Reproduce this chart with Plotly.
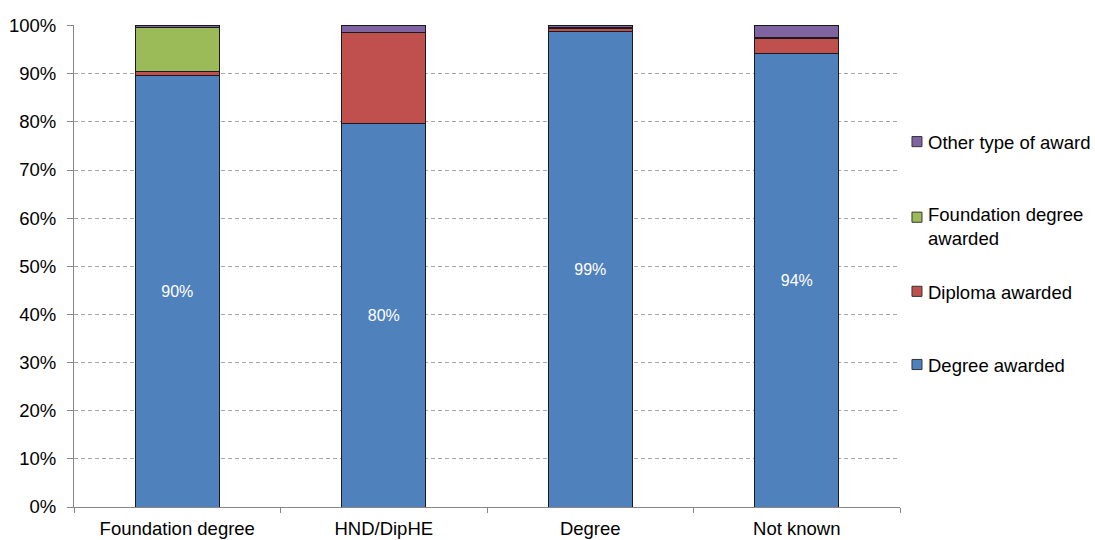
import plotly.graph_objects as go

# Qualification aimed for on entry, and share of each award type (percent)
categories = ["Foundation degree", "HND/DipHE", "Degree", "Not known"]
degree_awarded = [89.6, 79.7, 98.8, 94.3]
diploma_awarded = [0.9, 18.9, 0.5, 3.0]
foundation_awarded = [9.1, 0.0, 0.2, 0.3]
other_award = [0.4, 1.4, 0.5, 2.4]

y_ticks = list(range(0, 101, 10))
y_tick_labels = [f"{v}%" for v in y_ticks]

series = [
    ("Degree awarded", degree_awarded, "#4F81BD"),
    ("Diploma awarded", diploma_awarded, "#C0504D"),
    ("Foundation degree<br>awarded", foundation_awarded, "#9BBB59"),
    ("Other type of award", other_award, "#8064A2"),
]

FONT = "Liberation Sans, Arial, sans-serif"
TEXT_SIZE = 18.5

fig = go.Figure()
for i, (name, values, colour) in enumerate(series):
    kwargs = {}
    if i == 0:
        kwargs = dict(
            texttemplate="%{y:.0f}%",
            textposition="inside",
            insidetextanchor="middle",
            textfont=dict(color="white", size=16, family=FONT),
        )
    fig.add_trace(go.Bar(
        x=categories, y=values, name=name,
        marker=dict(color=colour, line=dict(color="#1a1a1a", width=1)),
        showlegend=False, hoverinfo="skip", **kwargs,
    ))

# Legend drawn beside the plot: a swatch and label per series, top to bottom
legend_rows = [
    ("Other type of award", "#8064A2", 75.9, 75.8),
    ("Foundation degree<br>awarded", "#9BBB59", 60.2, 58.2),
    ("Diploma awarded", "#C0504D", 44.8, 44.6),
    ("Degree awarded", "#4F81BD", 29.6, 29.4),
]
for label, colour, swatch_y, text_y in legend_rows:
    fig.add_shape(
        type="rect", xref="paper", yref="y",
        x0=1.0145, x1=1.0266, y0=swatch_y - 1.05, y1=swatch_y + 1.05,
        fillcolor=colour, line=dict(color="#333333", width=1),
    )
    fig.add_annotation(
        xref="paper", yref="y", x=1.032, y=text_y, text=label,
        showarrow=False, xanchor="left", yanchor="middle", align="left",
        font=dict(size=TEXT_SIZE, family=FONT, color="black"),
    )

fig.update_layout(
    barmode="stack",
    bargap=0.593,
    width=1095, height=540,
    margin=dict(l=74, r=195, t=25, b=33),
    plot_bgcolor="white", paper_bgcolor="white",
    font=dict(family=FONT, size=TEXT_SIZE, color="black"),
    xaxis=dict(
        showline=True, linecolor="#868686", linewidth=1,
        ticks="outside", tickson="boundaries", ticklen=5, tickcolor="#868686",
        showgrid=False, tickfont=dict(size=TEXT_SIZE),
        ticklabelstandoff=5, automargin=False,
    ),
    yaxis=dict(
        range=[0, 100.12], tickvals=y_ticks, ticktext=y_tick_labels,
        showline=True, linecolor="#868686", linewidth=1,
        ticks="outside", ticklen=6, tickcolor="#868686",
        showgrid=True, gridcolor="#A6A6A6", gridwidth=1, griddash="4px,3px",
        zeroline=False, tickfont=dict(size=TEXT_SIZE),
        ticklabelstandoff=7, automargin=False,
    ),
)

fig.write_html("out.html")
